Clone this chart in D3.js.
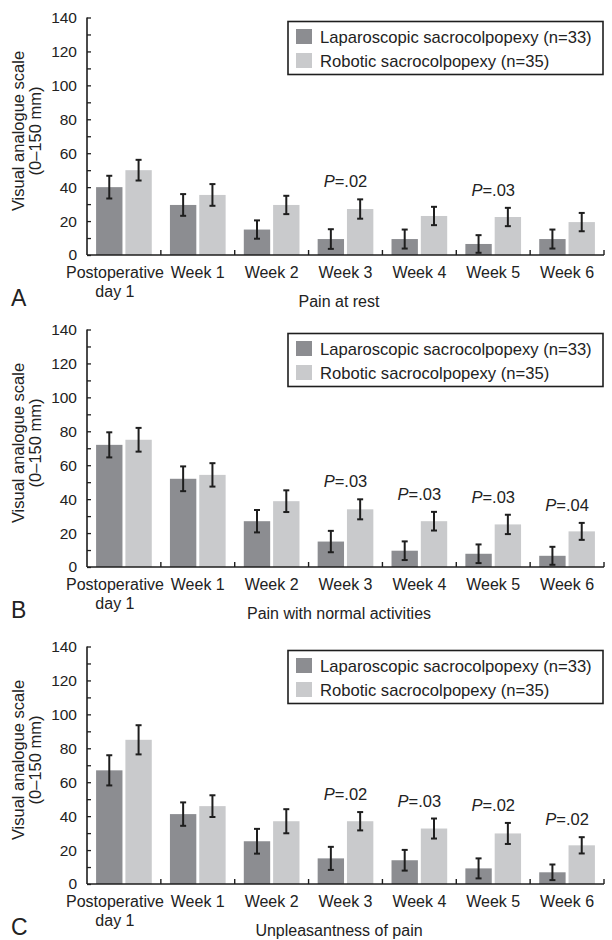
<!DOCTYPE html>
<html>
<head>
<meta charset="utf-8">
<script src="https://cdn.jsdelivr.net/npm/d3@7"></script>
<style>
  html, body { margin: 0; padding: 0; background: #fff; }
  svg { display: block; }
  text { font-family: "Liberation Sans", Arial, Helvetica, sans-serif; fill: #222; }
</style>
</head>
<body>
<svg id="chart" width="612" height="940"></svg>
<script>
// ---------- data ----------
const categories = ["Postoperative day 1", "Week 1", "Week 2", "Week 3", "Week 4", "Week 5", "Week 6"];
const seriesNames = ["Laparoscopic sacrocolpopexy (n=33)", "Robotic sacrocolpopexy (n=35)"];
const yTicks = [0, 20, 40, 60, 80, 100, 120, 140];

const restLap    = [40, 29.5, 15, 9.4, 9.4, 6.5, 9.4];
const restLapErr = [6.7, 6.4, 5.4, 5.8, 5.6, 5.2, 5.6];
const restRob    = [50, 35.4, 29.5, 27.1, 23, 22.4, 19.4];
const restRobErr = [6.1, 6.4, 5.4, 5.7, 5.4, 5.4, 5.4];
const restP      = [null, null, null, ".02", null, ".03", null];

const activityLap    = [72, 52, 27, 15, 9.6, 7.8, 6.6];
const activityLapErr = [7.4, 7.3, 6.6, 6.3, 5.5, 5.5, 5.3];
const activityRob    = [75, 54.3, 38.8, 34, 27, 25.1, 21];
const activityRobErr = [7, 6.9, 6.4, 5.9, 5.5, 5.7, 5];
const activityP      = [null, null, null, ".03", ".03", ".03", ".04"];

const unpleasLap    = [67, 41.2, 25.2, 15.1, 14, 9.2, 6.9];
const unpleasLapErr = [8.9, 6.9, 7.3, 6.8, 6.1, 5.9, 4.6];
const unpleasRob    = [85, 45.9, 37, 37, 32.7, 29.8, 22.8];
const unpleasRobErr = [8.6, 6.4, 7.1, 5.4, 5.9, 6.2, 4.8];
const unpleasP      = [null, null, null, ".02", ".03", ".02", ".02"];

const panels = [
  { letter: "A", title: "Pain at rest", lap: restLap, lapErr: restLapErr, rob: restRob, robErr: restRobErr, p: restP },
  { letter: "B", title: "Pain with normal activities", lap: activityLap, lapErr: activityLapErr, rob: activityRob, robErr: activityRobErr, p: activityP },
  { letter: "C", title: "Unpleasantness of pain", lap: unpleasLap, lapErr: unpleasLapErr, rob: unpleasRob, robErr: unpleasRobErr, p: unpleasP }
];

// ---------- layout ----------
const colors = ["#8c8d91", "#c9cacc"];
const ink = "#1e1e1e";
const baseY = [255, 567, 884];
const plotH = 237.5;
const xL = 87, xR = 604;

const svg = d3.select("#chart");

panels.forEach((pn, pi) => {
  const y0 = baseY[pi];
  const y = d3.scaleLinear().domain([0, 140]).range([y0, y0 - plotH]);
  const x = d3.scaleBand().domain(categories).range([xL, xR]).paddingInner(0).paddingOuter(0);
  const xs = d3.scaleBand().domain([0, 1]).range([0, x.bandwidth()]).paddingInner(0.1).paddingOuter(0.31);

  const g = svg.append("g");

  const rows = categories.map((c, i) => ({
    c, i,
    vals: [
      { s: 0, v: pn.lap[i], e: pn.lapErr[i] },
      { s: 1, v: pn.rob[i], e: pn.robErr[i] }
    ]
  }));

  const grp = g.selectAll("g.cat").data(rows).join("g")
    .attr("class", "cat")
    .attr("transform", d => `translate(${x(d.c)},0)`);

  // bars
  grp.selectAll("rect").data(d => d.vals).join("rect")
    .attr("x", d => xs(d.s))
    .attr("width", xs.bandwidth())
    .attr("y", d => y(d.v))
    .attr("height", d => y(0) - y(d.v))
    .attr("fill", d => colors[d.s]);

  // error bars
  const eb = grp.selectAll("g.eb").data(d => d.vals).join("g").attr("class", "eb")
    .attr("stroke", ink).attr("stroke-width", 2).attr("fill", "none");
  eb.append("line")
    .attr("x1", d => xs(d.s) + xs.bandwidth() / 2)
    .attr("x2", d => xs(d.s) + xs.bandwidth() / 2)
    .attr("y1", d => y(d.v + d.e))
    .attr("y2", d => y(d.v - d.e));
  [1, -1].forEach(sign => {
    eb.append("line")
      .attr("x1", d => xs(d.s) + xs.bandwidth() / 2 - 3)
      .attr("x2", d => xs(d.s) + xs.bandwidth() / 2 + 3)
      .attr("y1", d => y(d.v + sign * d.e))
      .attr("y2", d => y(d.v + sign * d.e));
  });

  // P labels
  grp.filter(d => pn.p[d.i] != null).append("text")
    .attr("x", x.bandwidth() / 2)
    .attr("y", d => y(pn.rob[d.i] + pn.robErr[d.i]) - 12)
    .attr("text-anchor", "middle")
    .style("font-size", "16.5px")
    .call(t => {
      t.append("tspan").style("font-style", "italic").text("P");
      t.append("tspan").text(d => "=" + pn.p[d.i]);
    });

  // y axis
  const yAxis = d3.axisLeft(y)
    .tickValues(d3.range(0, 141, 10))
    .tickSize(-4)
    .tickPadding(10)
    .tickFormat(d => yTicks.includes(d) ? d : "");
  const ya = g.append("g").attr("transform", `translate(${xL},0)`).call(yAxis);
  ya.select(".domain").attr("stroke", ink).attr("stroke-width", 1.6).attr("d", `M0,${y(140)}V${y(0)}`);
  ya.selectAll(".tick line").attr("stroke", ink).attr("stroke-width", 1.3);
  ya.selectAll(".tick text").style("font-size", "15.5px").attr("fill", "#222")
    .style("font-family", '"Liberation Sans", Arial, sans-serif');

  // x axis
  const xAxis = d3.axisBottom(x).tickSize(0).tickFormat("");
  const xa = g.append("g").attr("transform", `translate(0,${y0})`).call(xAxis);
  xa.select(".domain").attr("stroke", ink).attr("stroke-width", 1.6).attr("d", `M${xL},0H${xR}`);
  const bounds = categories.map(c => x(c)).concat([x.range()[1]]);
  xa.selectAll("line.bt").data(bounds.slice(1)).join("line").attr("class", "bt")
    .attr("x1", d => d).attr("x2", d => d).attr("y1", 0).attr("y2", -5)
    .attr("stroke", ink).attr("stroke-width", 1.4);

  // category labels
  const lbl = g.selectAll("text.cl").data(categories).join("text").attr("class", "cl")
    .attr("text-anchor", "middle")
    .style("font-size", "16px");
  lbl.each(function (c) {
    const t = d3.select(this);
    const cx = x(c) + x.bandwidth() / 2;
    if (c === "Postoperative day 1") {
      t.append("tspan").attr("x", cx - 9).attr("y", y0 + 23).text("Postoperative");
      t.append("tspan").attr("x", cx - 9).attr("y", y0 + 42).text("day 1");
    } else {
      t.append("tspan").attr("x", cx).attr("y", y0 + 23).text(c);
    }
  });

  // x title
  g.append("text")
    .attr("x", 339).attr("y", y0 + 52)
    .attr("text-anchor", "middle")
    .style("font-size", "16px")
    .text(pn.title);

  // y title
  const yc = y0 - 124;
  g.append("text")
    .attr("transform", `translate(24,${yc}) rotate(-90)`)
    .attr("text-anchor", "middle")
    .style("font-size", "16.5px")
    .text("Visual analogue scale");
  g.append("text")
    .attr("transform", `translate(41,${yc}) rotate(-90)`)
    .attr("text-anchor", "middle")
    .style("font-size", "16.5px")
    .text("(0\u2013150 mm)");

  // panel letter
  g.append("text")
    .attr("x", 11).attr("y", y0 + 51)
    .style("font-size", "23px")
    .text(pn.letter);

  // legend
  const lt = y(140) + 4;
  const leg = g.append("g").attr("transform", `translate(288,${lt})`);
  leg.append("rect").attr("x", 0).attr("y", 0).attr("width", 315).attr("height", 53)
    .attr("fill", "#fff").attr("stroke", ink).attr("stroke-width", 1.6);
  const li = leg.selectAll("g.li").data(seriesNames).join("g").attr("class", "li")
    .attr("transform", (d, i) => `translate(8,${7.5 + i * 24})`);
  li.append("rect").attr("width", 16).attr("height", 15).attr("fill", (d, i) => colors[i]);
  li.append("text").attr("x", 24).attr("y", 13.5).style("font-size", "16.6px").text(d => d);
});
</script>
</body>
</html>
